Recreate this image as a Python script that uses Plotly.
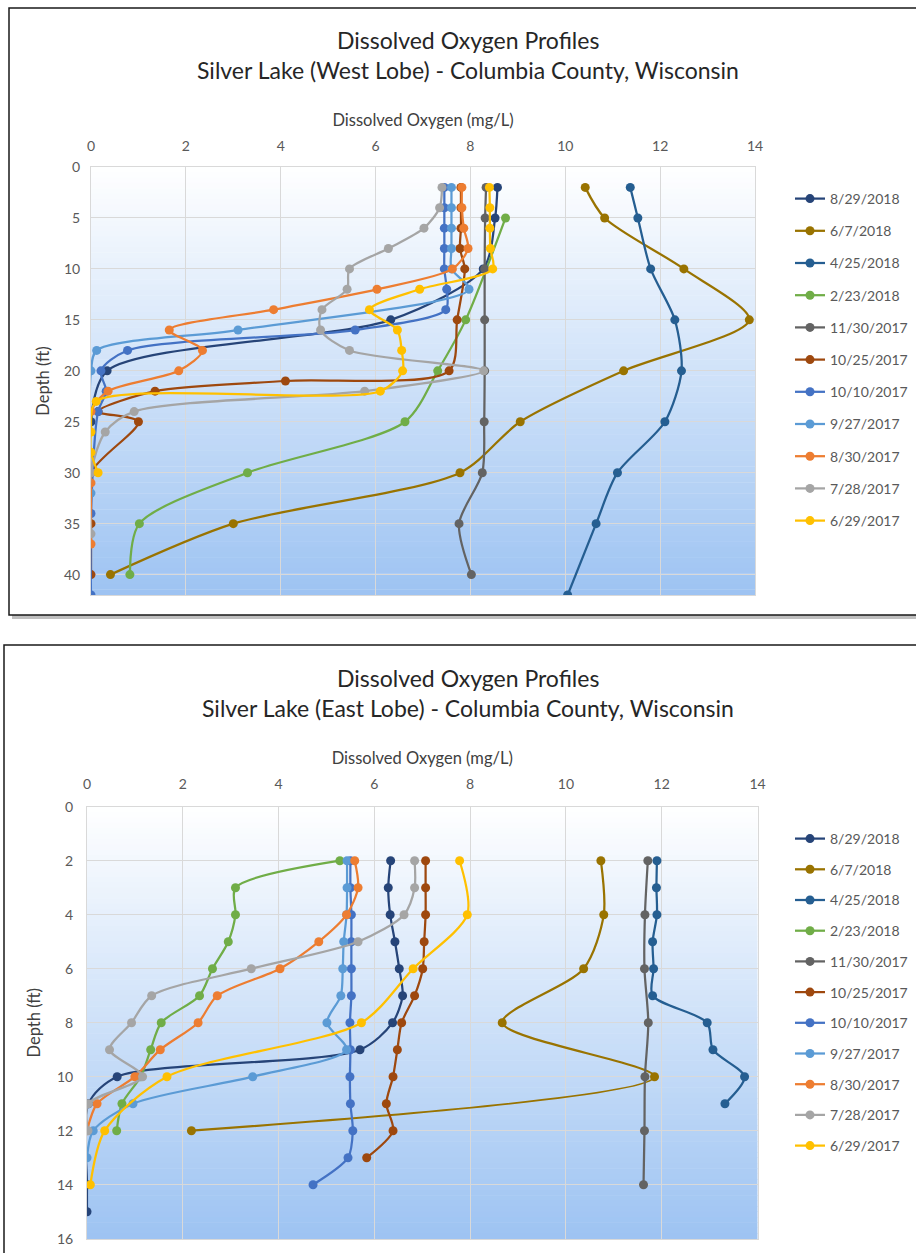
import plotly.graph_objects as go

# ---------------- DATA ----------------
dates = ["8/29/2018", "6/7/2018", "4/25/2018", "2/23/2018", "11/30/2017",
         "10/25/2017", "10/10/2017", "9/27/2017", "8/30/2017", "7/28/2017", "6/29/2017"]
colors = ["#264478", "#997300", "#255E91", "#70AD47", "#636363",
          "#9E480E", "#4472C4", "#5B9BD5", "#ED7D31", "#A5A5A5", "#FFC000"]

# West Lobe (depth ft, dissolved oxygen mg/L)
w_20180829_depth = [2, 5, 10, 15, 20, 25]
w_20180829_do = [8.57, 8.52, 8.27, 6.32, 0.34, 0.0]
w_20180607_depth = [2, 5, 10, 15, 20, 25, 30, 35, 40]
w_20180607_do = [10.42, 10.83, 12.5, 13.88, 11.23, 9.05, 7.78, 3.0, 0.41]
w_20180425_depth = [2, 5, 10, 15, 20, 25, 30, 35, 42]
w_20180425_do = [11.37, 11.53, 11.80, 12.31, 12.45, 12.1, 11.1, 10.65, 10.05]
w_20180223_depth = [5, 15, 20, 25, 30, 35, 40]
w_20180223_do = [8.74, 7.90, 7.31, 6.62, 3.30, 1.02, 0.82]
w_20171130_depth = [2, 5, 10, 15, 20, 25, 30, 35, 40]
w_20171130_do = [8.33, 8.31, 8.30, 8.30, 8.30, 8.29, 8.25, 7.76, 8.02]
w_20171025_depth = [2, 4, 6, 8, 10, 15, 20, 21, 22, 24, 25, 30, 35, 40]
w_20171025_do = [7.80, 7.80, 7.80, 7.78, 7.88, 7.72, 7.55, 4.10, 1.35, 0.15, 1.0, 0.0, 0.0, 0.0]
w_20171010_depth = [2, 4, 6, 8, 10, 12, 14, 16, 18, 20, 22, 24, 34, 42]
w_20171010_do = [7.45, 7.45, 7.45, 7.45, 7.45, 7.50, 7.48, 5.57, 0.77, 0.21, 0.32, 0.15, 0.0, 0.0]
w_20170927_depth = [2, 4, 6, 8, 10, 12, 16, 18, 20, 32]
w_20170927_do = [7.60, 7.60, 7.60, 7.60, 7.60, 7.97, 3.10, 0.12, 0.0, 0.0]
w_20170830_depth = [2, 4, 6, 8, 10, 12, 14, 16, 18, 20, 22, 24, 31, 37]
w_20170830_do = [7.82, 7.82, 7.86, 7.95, 7.62, 6.03, 3.85, 1.65, 2.35, 1.85, 0.36, 0.0, 0.0, 0.0]
w_20170728_depth = [2, 4, 6, 8, 10, 12, 14, 16, 18, 20, 22, 24, 26, 30, 36]
w_20170728_do = [7.40, 7.35, 7.02, 6.27, 5.45, 5.40, 4.87, 4.84, 5.45, 8.28, 5.77, 0.91, 0.30, 0.0, 0.0]
w_20170629_depth = [2, 4, 6, 8, 10, 12, 14, 16, 18, 20, 22, 23, 26, 28, 30]
w_20170629_do = [8.40, 8.41, 8.41, 8.42, 8.47, 6.93, 5.87, 6.46, 6.55, 6.57, 6.10, 0.11, 0.0, 0.0, 0.15]

# East Lobe
e_20180829_depth = [2, 3, 4, 5, 6, 7, 8, 9, 10, 11, 14, 15]
e_20180829_do = [6.34, 6.29, 6.33, 6.43, 6.52, 6.59, 6.38, 5.70, 0.63, 0.03, 0.0, 0.0]
e_20180607_depth = [2, 4, 6, 8, 10, 12]
e_20180607_do = [10.73, 10.79, 10.37, 8.67, 11.85, 2.18]
e_20180425_depth = [2, 3, 4, 5, 6, 7, 8, 9, 10, 11]
e_20180425_do = [11.90, 11.89, 11.90, 11.81, 11.83, 11.81, 12.95, 13.07, 13.73, 13.32]
e_20180223_depth = [2, 3, 4, 5, 6, 7, 8, 9, 10, 11, 12]
e_20180223_do = [5.28, 3.10, 3.10, 2.95, 2.62, 2.35, 1.55, 1.33, 1.12, 0.73, 0.62]
e_20171130_depth = [2, 4, 6, 8, 10, 12, 14]
e_20171130_do = [11.71, 11.65, 11.64, 11.72, 11.65, 11.64, 11.62]
e_20171025_depth = [2, 3, 4, 5, 6, 7, 8, 9, 10, 11, 12, 13]
e_20171025_do = [7.07, 7.07, 7.07, 7.04, 7.01, 6.84, 6.57, 6.48, 6.39, 6.25, 6.39, 5.84]
e_20171010_depth = [2, 3, 4, 5, 6, 7, 8, 9, 10, 11, 12, 13, 14]
e_20171010_do = [5.50, 5.50, 5.52, 5.52, 5.52, 5.52, 5.49, 5.50, 5.49, 5.50, 5.55, 5.45, 4.72]
e_20170927_depth = [2, 3, 4, 5, 6, 7, 8, 9, 10, 11, 12, 13]
e_20170927_do = [5.43, 5.43, 5.42, 5.36, 5.34, 5.30, 5.01, 5.42, 3.46, 0.96, 0.13, 0.0]
e_20170830_depth = [2, 3, 4, 5, 6, 7, 8, 9, 10, 11, 12]
e_20170830_do = [5.59, 5.66, 5.42, 4.84, 4.03, 2.72, 2.32, 1.53, 1.00, 0.21, 0.0]
e_20170728_depth = [2, 3, 4, 5, 6, 7, 8, 9, 10, 11, 12]
e_20170728_do = [6.84, 6.84, 6.62, 5.66, 3.43, 1.35, 0.93, 0.47, 1.16, 0.03, 0.02]
e_20170629_depth = [2, 4, 6, 8, 10, 12, 14]
e_20170629_do = [7.78, 7.94, 6.81, 5.73, 1.67, 0.37, 0.07]

west = [(w_20180829_do, w_20180829_depth), (w_20180607_do, w_20180607_depth),
        (w_20180425_do, w_20180425_depth), (w_20180223_do, w_20180223_depth),
        (w_20171130_do, w_20171130_depth), (w_20171025_do, w_20171025_depth),
        (w_20171010_do, w_20171010_depth), (w_20170927_do, w_20170927_depth),
        (w_20170830_do, w_20170830_depth), (w_20170728_do, w_20170728_depth),
        (w_20170629_do, w_20170629_depth)]
east = [(e_20180829_do, e_20180829_depth), (e_20180607_do, e_20180607_depth),
        (e_20180425_do, e_20180425_depth), (e_20180223_do, e_20180223_depth),
        (e_20171130_do, e_20171130_depth), (e_20171025_do, e_20171025_depth),
        (e_20171010_do, e_20171010_depth), (e_20170927_do, e_20170927_depth),
        (e_20170830_do, e_20170830_depth), (e_20170728_do, e_20170728_depth),
        (e_20170629_do, e_20170629_depth)]

title_line1 = "Dissolved Oxygen Profiles"
west_title = "Silver Lake (West Lobe) - Columbia County, Wisconsin"
east_title = "Silver Lake (East Lobe) - Columbia County, Wisconsin"
x_title = "Dissolved Oxygen (mg/L)"
y_title = "Depth (ft)"

# ---------------- FIGURE ----------------
W, H = 916, 1253
FONT = "Lato, Carlito, Calibri, sans-serif"
TXT = "#595959"

fig = go.Figure()

for i, (do, dep) in enumerate(west):
    fig.add_trace(go.Scatter(
        x=do, y=dep, mode="lines+markers", name=dates[i],
        line=dict(color=colors[i], width=2.25, shape="spline", smoothing=0.8),
        marker=dict(color=colors[i], size=9),
        xaxis="x", yaxis="y", legend="legend", legendgroup="w%d" % i))
for i, (do, dep) in enumerate(east):
    fig.add_trace(go.Scatter(
        x=do, y=dep, mode="lines+markers", name=dates[i],
        line=dict(color=colors[i], width=2.25, shape="spline", smoothing=0.8),
        marker=dict(color=colors[i], size=9),
        xaxis="x2", yaxis="y2", legend="legend2", legendgroup="e%d" % i))

def px(x):
    return x / W

def py(y):
    return 1 - y / H

shapes = []
# chart boxes with a soft shadow
for (x0, y0, x1, y1) in [(9, 8, 930, 615), (4, 645, 930, 1270)]:
    shapes.append(dict(type="rect", xref="paper", yref="paper",
                       x0=px(x0 + 3), y0=py(y1 + 4), x1=px(x1 + 3), y1=py(y0 + 4),
                       line=dict(width=0), fillcolor="#BFBFBF", layer="below"))
    shapes.append(dict(type="rect", xref="paper", yref="paper",
                       x0=px(x0), y0=py(y1), x1=px(x1), y1=py(y0),
                       line=dict(color="#1A1A1A", width=1.5), fillcolor="white", layer="below"))

# vertical gradient of plot areas (white -> light blue)
top_c = (255, 255, 255)
bot_c = (157, 195, 242)
N = 80
for ax in ["x", "x2"]:
    yref = "y" if ax == "x" else "y2"
    for k in range(N):
        t = (k + 0.5) / N
        c = tuple(int(round(top_c[j] + (bot_c[j] - top_c[j]) * t)) for j in range(3))
        shapes.append(dict(type="rect", xref=ax + " domain", yref=yref + " domain",
                           x0=0, x1=1, y0=1 - (k + 1) / N - 0.0005, y1=1 - k / N + 0.0005,
                           line=dict(width=0), fillcolor="rgb(%d,%d,%d)" % c, layer="below"))

def title_ann(text, yc):
    return dict(text=text, x=px(468), y=py(yc), xref="paper", yref="paper",
                xanchor="center", yanchor="middle", showarrow=False,
                font=dict(family=FONT, size=23, color="#262626"))

annotations = [title_ann(title_line1, 40), title_ann(west_title, 70),
               title_ann(title_line1, 678), title_ann(east_title, 708)]

axis_common = dict(showgrid=True, gridcolor="#D9D9D9", gridwidth=1, zeroline=False,
                   showline=True, linecolor="#D9D9D9", linewidth=1, mirror=True,
                   automargin=False,
                   ticks="", tickfont=dict(family=FONT, size=14, color=TXT))
axis_title_font = dict(family=FONT, size=16.5, color="#404040")

fig.update_layout(
    width=W, height=H, margin=dict(l=0, r=0, t=0, b=0, autoexpand=False),
    paper_bgcolor="white", plot_bgcolor="white",
    font=dict(family=FONT, size=14, color=TXT),
    showlegend=True,
    shapes=shapes, annotations=annotations,
    xaxis=dict(domain=[px(91), px(755)], range=[0, 14], dtick=2, tick0=0, side="top",
               anchor="y", ticklabelstandoff=9,
               title=dict(text=x_title, standoff=6, font=axis_title_font),
               **axis_common),
    yaxis=dict(domain=[py(595), py(167)], range=[42, 0], dtick=5, tick0=0, anchor="x",
               ticklabelstandoff=7,
               title=dict(text=y_title, standoff=10, font=axis_title_font),
               **axis_common),
    xaxis2=dict(domain=[px(87), px(757.5)], range=[0, 14], dtick=2, tick0=0, side="top",
                anchor="y2", ticklabelstandoff=11,
                title=dict(text=x_title, standoff=6, font=axis_title_font),
                **axis_common),
    yaxis2=dict(domain=[py(1238.7), py(806.7)], range=[16, 0], dtick=2, tick0=0, anchor="x2",
                ticklabelstandoff=10,
                title=dict(text=y_title, standoff=12, font=axis_title_font),
                **axis_common),
    legend=dict(x=px(790), y=py(183), xanchor="left", yanchor="top",
                font=dict(family=FONT, size=14, color=TXT), itemwidth=30,
                tracegroupgap=11, bgcolor="rgba(0,0,0,0)", traceorder="grouped"),
    legend2=dict(x=px(790), y=py(823), xanchor="left", yanchor="top",
                 font=dict(family=FONT, size=14, color=TXT), itemwidth=30,
                 tracegroupgap=9.5, bgcolor="rgba(0,0,0,0)", traceorder="grouped"),
)

post = ("document.documentElement.style.margin='0';"
        "document.body.style.margin='0';document.body.style.overflow='hidden';")

fig.write_html("out.html", config={"displayModeBar": False}, post_script=post)
